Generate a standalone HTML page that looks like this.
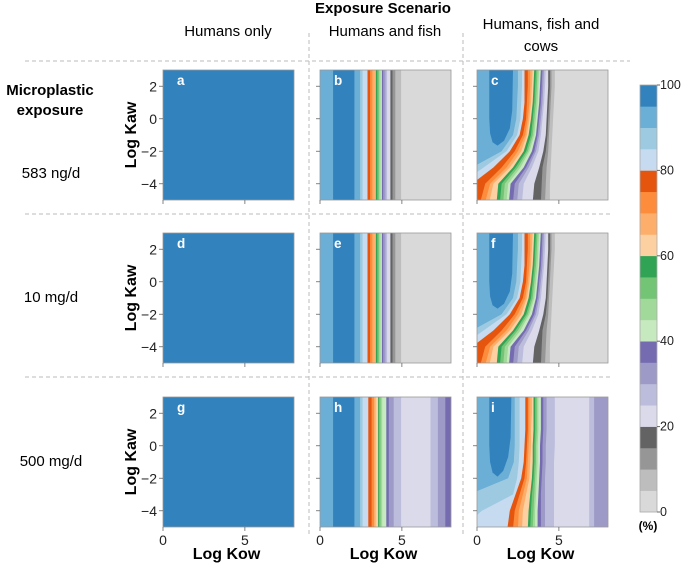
<!DOCTYPE html>
<html><head><meta charset="utf-8"><style>
body{margin:0;background:#fff}
svg{display:block;font-family:"Liberation Sans",sans-serif}
</style></head><body>
<svg id="fig" width="685" height="566" viewBox="0 0 685 566" xmlns="http://www.w3.org/2000/svg">
<g stroke="#bbb" stroke-dasharray="4,3" stroke-width="1">
<line x1="25" y1="61" x2="630" y2="61"/><line x1="25" y1="214" x2="610" y2="214"/><line x1="25" y1="377" x2="610" y2="377"/>
<line x1="309" y1="33" x2="309" y2="535"/><line x1="463" y1="33" x2="463" y2="535"/>
</g>
<text x="383" y="13" font-size="15" font-weight="bold" text-anchor="middle">Exposure Scenario</text>
<text x="228" y="36" font-size="15" text-anchor="middle">Humans only</text>
<text x="385" y="36" font-size="15" text-anchor="middle">Humans and fish</text>
<text x="541" y="29" font-size="15" text-anchor="middle"><tspan x="541">Humans, fish and</tspan><tspan x="541" dy="22">cows</tspan></text>
<text x="50" y="95" font-size="15" font-weight="bold" text-anchor="middle"><tspan x="50">Microplastic</tspan><tspan x="50" dy="20">exposure</tspan></text>
<text x="51" y="178" font-size="15" text-anchor="middle">583 ng/d</text>
<text x="51" y="302" font-size="15" text-anchor="middle">10 mg/d</text>
<text x="51" y="466" font-size="15" text-anchor="middle">500 mg/d</text>
<g id="panels"></g>
<g id="cbar"></g>
</svg>
<script>
// tab20c-like levels, index 0 = 0-5%, 19 = 95-100%
const levelColors = ["#d9d9d9","#bdbdbd","#969696","#636363","#dadaeb","#bcbddc","#9e9ac8","#756bb1","#c7e9c0","#a1d99b","#74c476","#31a354","#fdd0a2","#fdae6b","#fd8d3c","#e6550d","#c6dbef","#9ecae1","#6baed6","#3182bd"];
const cbarTicks = [0,20,40,60,80,100];
const kawSamples = [3,2,1,0,-1,-2,-3,-4,-5];
const xTicks = [0,5];
const yTicks = [2,0,-2,-4];
// regions: [level, boundary kow (scalar = vertical, array = per kawSamples)]
const bandsFish = [[18,0],[19,0.8],[18,2.1],[17,2.45],[16,2.6],[15,2.9],[14,3.06],[13,3.2],[12,3.35],[11,3.4],[10,3.5],[9,3.6],[8,3.7],[7,3.78],[6,3.86],[5,4.0],[4,4.1],[3,4.3],[2,4.43],[1,4.6],[0,4.95]];
const bandsFishHigh = [[18,0],[19,0.8],[18,2.1],[17,2.45],[16,2.6],[15,2.95],[14,3.15],[13,3.3],[12,3.4],[11,3.55],[10,3.6],[9,3.7],[8,3.8],[7,4.05],[6,4.2],[5,4.5],[4,4.95],[5,6.75],[6,7.2],[7,7.65]];
const cowsLow = [
 [18,0],
 [17,[2.5,2.5,2.45,2.4,2.2,1.5,-0.3,-1,-1]],
 [16,[2.75,2.75,2.7,2.65,2.45,1.8,0.4,-1,-1]],
 [15,[2.9,2.9,2.9,2.8,2.6,2.0,1.0,-0.3,-1]],
 [14,[3.1,3.1,3.05,3.0,2.8,2.3,1.5,0.5,0.2]],
 [13,[3.25,3.25,3.2,3.1,2.95,2.5,1.8,0.8,0.5]],
 [12,[3.4,3.35,3.3,3.2,3.05,2.7,2.0,1.0,0.75]],
 [11,[3.5,3.45,3.4,3.3,3.15,2.85,2.2,1.3,1.2]],
 [10,[3.6,3.55,3.5,3.4,3.3,3.0,2.35,1.5,1.4]],
 [9,[3.7,3.65,3.6,3.5,3.4,3.1,2.5,1.7,1.6]],
 [8,[3.8,3.75,3.7,3.6,3.5,3.2,2.65,1.9,1.8]],
 [7,[3.9,3.85,3.8,3.7,3.6,3.35,2.85,2.05,1.95]],
 [6,[4.0,3.95,3.9,3.8,3.7,3.5,3.0,2.3,2.2]],
 [5,[4.1,4.05,4.0,3.9,3.8,3.6,3.15,2.55,2.45]],
 [4,[4.2,4.15,4.1,4.0,3.9,3.75,3.35,2.85,2.75]],
 [3,[4.35,4.35,4.3,4.25,4.2,4.05,3.8,3.5,3.4]],
 [2,[4.45,4.45,4.4,4.35,4.3,4.2,4.0,3.95,3.9]],
 [1,[4.55,4.55,4.5,4.45,4.4,4.35,4.25,4.2,4.15]],
 [0,[4.75,4.75,4.7,4.65,4.6,4.55,4.5,4.45,4.45]]
];
const cowsHigh = [
 [18,0],
 [17,[2.3,2.3,2.3,2.3,2.25,1.9,-0.5,-1,-1]],
 [16,[2.6,2.6,2.6,2.6,2.55,2.45,2.2,0.3,-1]],
 [15,[2.95,2.95,2.95,2.9,2.85,2.7,2.35,2.0,1.85]],
 [14,[3.1,3.1,3.1,3.05,3.0,2.9,2.6,2.3,2.2]],
 [13,[3.2,3.2,3.2,3.15,3.1,3.05,2.8,2.55,2.5]],
 [12,[3.35,3.35,3.3,3.3,3.25,3.2,3.0,2.8,2.75]],
 [11,[3.45,3.45,3.45,3.4,3.4,3.35,3.25,3.15,3.1]],
 [10,[3.55,3.55,3.55,3.5,3.5,3.45,3.35,3.3,3.25]],
 [9,[3.65,3.65,3.65,3.6,3.6,3.55,3.5,3.45,3.4]],
 [8,[3.75,3.75,3.75,3.7,3.7,3.65,3.6,3.55,3.55]],
 [7,[3.9,3.9,3.9,3.85,3.85,3.8,3.75,3.7,3.7]],
 [6,[4.05,4.05,4.05,4.0,4.0,3.95,3.9,3.9,3.9]],
 [5,[4.25,4.25,4.25,4.2,4.2,4.15,4.15,4.15,4.15]],
 [4,[4.75,4.75,4.75,4.75,4.7,4.7,4.7,4.7,4.7]],
 [5,6.85],[6,7.15]
];
const blobKowLow = [0.75,0.75,0.8,0.95,1.25,1.65,2.0,2.15,2.2];
const blobKawLow = [3,0,-0.9,-1.45,-1.65,-1.35,-0.6,0.5,3];
const blobKowHigh = [0.75,0.75,0.8,0.95,1.25,1.6,1.9,2.05,2.1];
const blobKawHigh = [3,0,-1.0,-1.65,-1.9,-1.55,-0.7,0.5,3];

const colX=[163,320,477], rowY=[70,233,397], PW=131, PH=130;
const kowMax=8, kawMin=-5, kawMax=3;
const NS="http://www.w3.org/2000/svg";
function el(t,a,p){const e=document.createElementNS(NS,t);for(const k in a)e.setAttribute(k,a[k]);p.appendChild(e);return e;}
const panels=document.getElementById('panels');
const specs=[
 ['a',0,0,'full',null],['b',1,0,bandsFish,null],['c',2,0,cowsLow,'low'],
 ['d',0,1,'full',null],['e',1,1,bandsFish,null],['f',2,1,cowsLow,'low'],
 ['g',0,2,'full',null],['h',1,2,bandsFishHigh,null],['i',2,2,cowsHigh,'high']];
specs.forEach(([lab,c,r,regions,blob],pi)=>{
 const x0=colX[c],y0=rowY[r];
 const sx=k=>x0+k/kowMax*PW, sy=v=>y0+(kawMax-v)/(kawMax-kawMin)*PH;
 const g=el('g',{},panels);
 
 
 const cp=el('clipPath',{id:'cp'+pi},g);
 el('rect',{x:x0,y:y0,width:PW,height:PH},cp);
 const gg=el('g',{'clip-path':'url(#cp'+pi+')'},g);
 if(regions==='full'){
  const rr=el('rect',{x:x0,y:y0,width:PW,height:PH,fill:levelColors[19]},gg);
  
  
 } else {
  regions.forEach(([lev,b])=>{
   const arr=Array.isArray(b)?b:kawSamples.map(()=>b);
   let pts=arr.map((k,i)=>sx(k).toFixed(1)+','+sy(kawSamples[i]).toFixed(1));
   pts.push((x0+PW+2)+','+(y0+PH+2)); pts.push((x0+PW+2)+','+(y0-2));
   pts[0]=sx(arr[0]).toFixed(1)+','+(y0-2);
   pts[arr.length-1]=sx(arr[arr.length-1]).toFixed(1)+','+(y0+PH+2);
   const p=el('polygon',{points:pts.join(' '),fill:levelColors[lev]},gg);
   
   
  });
  if(blob){
   const bk=blob==='low'?blobKowLow:blobKowHigh, bv=blob==='low'?blobKawLow:blobKawHigh;
   let d='M'+sx(bk[0])+','+(y0-2);
   for(let i=1;i<bk.length-1;i++) d+=' L'+sx(bk[i]).toFixed(1)+','+sy(bv[i]).toFixed(1);
   d+=' L'+sx(bk[bk.length-1])+','+(y0-2)+'Z';
   const p=el('path',{d:d,fill:levelColors[19],'stroke-linejoin':'round'},gg);
   
   
  }
 }
 el('rect',{x:x0,y:y0,width:PW,height:PH,fill:'none',stroke:'#999','stroke-width':0.8},g);
 const t=el('text',{x:x0+14,y:y0+15,fill:'#fff','font-size':13.5,'font-weight':'bold'},g);
 t.textContent=lab;
 
 
 yTicks.forEach(v=>{
  el('line',{x1:x0-4,x2:x0,y1:sy(v),y2:sy(v),stroke:'#666','stroke-width':0.8},g);
  if(c===0){const tt=el('text',{x:x0-6,y:sy(v)+5,'font-size':14,'text-anchor':'end',fill:'#222'},g);
   tt.textContent=v<0?'\u2212'+(-v):String(v);
   
   }
 });
 xTicks.forEach(v=>{
  el('line',{x1:sx(v),x2:sx(v),y1:y0+PH,y2:y0+PH+4,stroke:'#666','stroke-width':0.8},g);
  if(r===2){const tt=el('text',{x:sx(v),y:y0+PH+18,'font-size':14,'text-anchor':'middle',fill:'#222'},g);
   tt.textContent=String(v);
   
   }
 });
 if(c===0){const yt=el('text',{transform:`translate(${x0-27},${y0+PH/2}) rotate(-90)`,'font-size':16,'font-weight':'bold','text-anchor':'middle'},g);
  yt.textContent='Log Kaw';
  
  }
 if(r===2){const xt=el('text',{x:x0+PW/2-2,y:y0+PH+32,'font-size':16,'font-weight':'bold','text-anchor':'middle'},g);
  xt.textContent='Log Kow';
  
  }
});
// colorbar
const cb=document.getElementById('cbar');


const cbX=640,cbW=17,cbTop=85,cbBot=512,cbH=(cbBot-cbTop)/levelColors.length;
levelColors.forEach((col,i)=>{
 const r=el('rect',{x:cbX,y:cbBot-(i+1)*cbH,width:cbW,height:cbH+0.3,fill:col},cb);
 
 
});
el('rect',{x:cbX,y:cbTop,width:cbW,height:cbBot-cbTop,fill:'none',stroke:'#aaa','stroke-width':0.8},cb);
cbarTicks.forEach(v=>{
 const y=cbBot-(v/100)*(cbBot-cbTop);
 el('line',{x1:cbX+cbW,x2:cbX+cbW+3,y1:y,y2:y,stroke:'#666'},cb);
 const t=el('text',{x:cbX+cbW+3,y:y+4,'font-size':12.5,fill:'#222'},cb);
 t.textContent=String(v);
 
 
});
const pt=el('text',{x:cbX+8,y:530,'font-size':12,'font-weight':'bold','text-anchor':'middle'},cb);
pt.textContent='(%)';


</script>
</body></html>
